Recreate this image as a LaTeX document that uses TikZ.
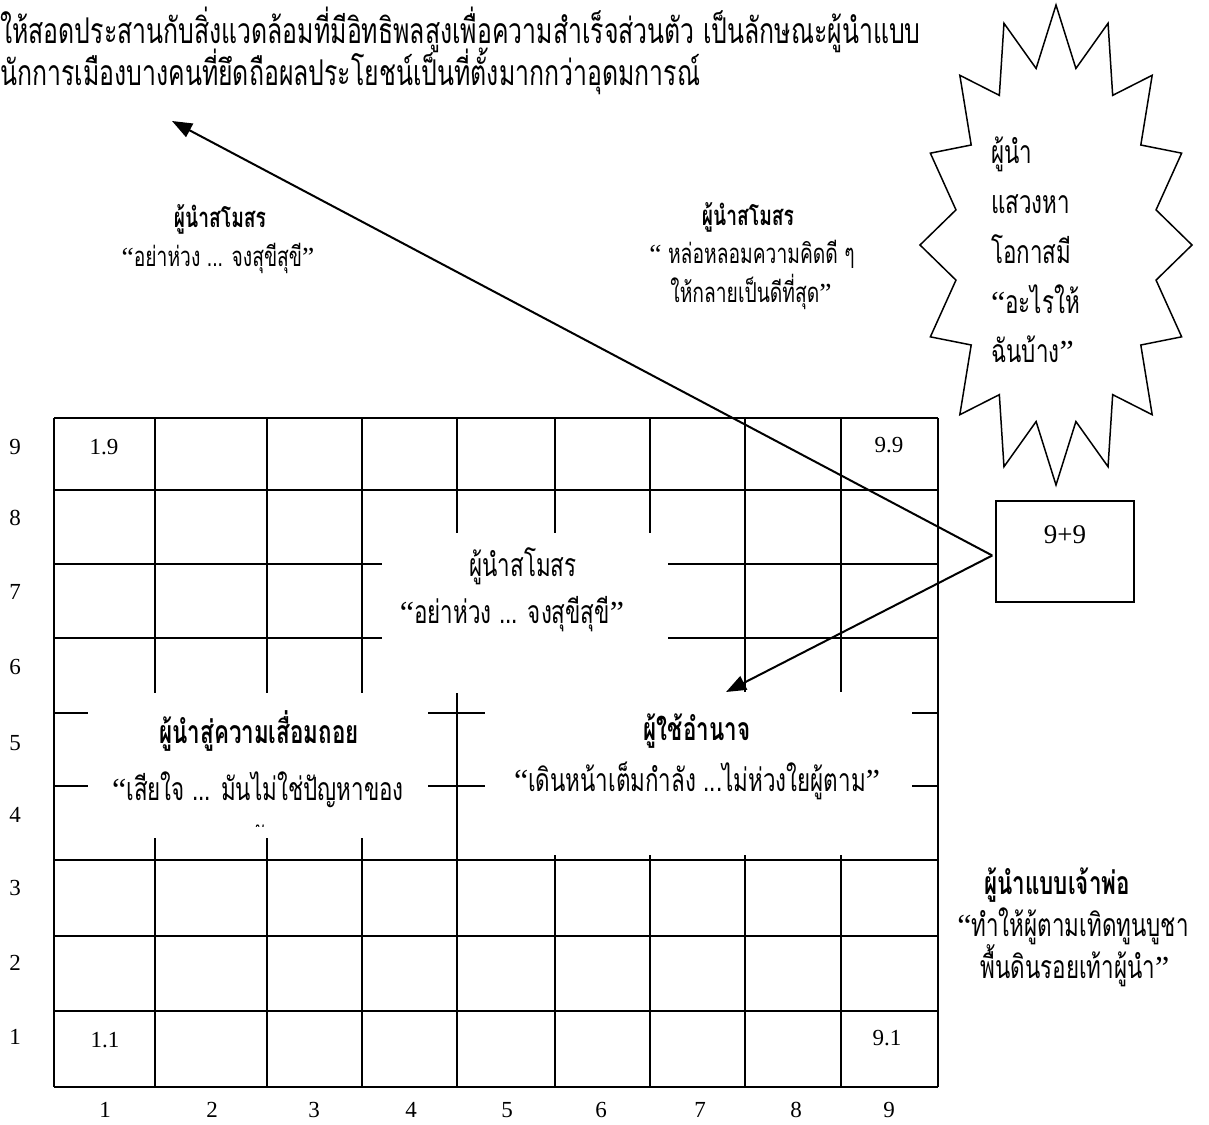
\documentclass[tikz,border=0pt]{standalone}
\usepackage{fontspec}
\setmainfont{Liberation Serif}
\newfontfamily\thai[Script=Thai,FakeStretch=0.7]{Loma}
\newcommand{\qo}{{\rmfamily “}}
\newcommand{\qc}{{\rmfamily ”}}
\usetikzlibrary{arrows.meta}
\begin{document}
\begin{tikzpicture}[x=1pt,y=-1pt,
  gridline/.style={line width=1.5pt},
  num/.style={font=\fontsize{23}{26}\selectfont, inner sep=0pt},
  th/.style={font=\thai\fontsize{32}{38}\selectfont, inner sep=0pt, anchor=base},
  thb/.style={font=\thai\bfseries\fontsize{32}{38}\selectfont, inner sep=0pt, anchor=base},
  ths/.style={font=\thai\fontsize{27.5}{33}\selectfont, inner sep=0pt, anchor=base},
  thsb/.style={font=\thai\bfseries\fontsize{27.5}{33}\selectfont, inner sep=0pt, anchor=base},
  thtop/.style={font=\thai\fontsize{35.5}{42}\selectfont, inner sep=0pt, anchor=base west},
  thstar/.style={font=\thai\fontsize{32}{38}\selectfont, inner sep=0pt, anchor=base west},
  blank/.style={fill=white, draw=none, inner sep=0pt},
  arr/.style={line width=2pt, -{Triangle[length=20pt,width=15pt]}}
]
\useasboundingbox (0,0) rectangle (1209,1124);

% top text
\node[thtop] (top1) at (0,44) {ให้สอดประสานกับสิ่งแวดล้อมที่มีอิทธิพลสูงเพื่อความสำเร็จส่วนตัว เป็นลักษณะผู้นำแบบ};
\node[thtop] (top2) at (0,85) {นักการเมืองบางคนที่ยึดถือผลประโยชน์เป็นที่ตั้งมากกว่าอุดมการณ์};

% grid
\foreach \x in {54,155,267,362,457,555,650,745,841,938}
  \draw[gridline] (\x,418) -- (\x,1087);
\foreach \y in {418,490,564,638,713,786,860,936,1011,1087}
  \draw[gridline] (54,\y) -- (938,\y);

% white text areas
\node[blank, minimum width=286pt, minimum height=160pt] (boxA) at (525,613) {};
\node[blank, minimum width=340pt, minimum height=145pt] (boxC) at (258,765.5) {};
\node[blank, minimum width=427pt, minimum height=163pt] (boxD) at (698.5,773.5) {};

% row labels
\foreach \n/\y in {9/447,8/518,7/592,6/667,5/743,4/815,3/888,2/963,1/1037}
  \node[num] (r\n) at (15,\y) {\n};
% column labels
\foreach \n/\x in {1/105,2/212,3/314,4/411,5/507,6/601,7/700,8/796,9/889}
  \node[num] (c\n) at (\x,1110) {\n};
% cell numbers
\node[num] (n19) at (104,447) {1.9};
\node[num] (n99) at (889,445) {9.9};
\node[num] (n11) at (105,1040) {1.1};
\node[num] (n91) at (887,1038) {9.1};

% texts in grid
\node[th] (cT) at (523,576) {ผู้นำสโมสร};
\node[th] (cQ) at (512,623) {\qo อย่าห่วง ... จงสุขีสุขี\qc};
\node[thb] (llT) at (259,743) {ผู้นำสู่ความเสื่อมถอย};
\node[th] (llQ) at (258,800) {\qo เสียใจ ... มันไม่ใช่ปัญหาของ};
\begin{scope}
  \clip (88,693) rectangle (428,826);
  \node[th] (llR) at (266,850) {ฉัน};
\end{scope}
\node[thb] (lrT) at (697,740) {ผู้ใช้อำนาจ};
\node[th] (lrQ) at (697,791) {\qo เดินหน้าเต็มกำลัง ...ไม่ห่วงใยผู้ตาม\qc};

% upper texts
\node[thsb] (ulT) at (220,227) {ผู้นำสโมสร};
\node[ths] (ulQ) at (218,266) {\qo อย่าห่วง ... จงสุขีสุขี\qc};
\node[thsb] (umT) at (748,225) {ผู้นำสโมสร};
\node[ths] (umQ1) at (752,263) {\qo\ หล่อหลอมความคิดดี ๆ};
\node[ths] (umQ2) at (751,302) {ให้กลายเป็นดีที่สุด\qc};

% bottom right text
\node[thb] (brT) at (1057,894) {ผู้นำแบบเจ้าพ่อ};
\node[th] (brQ1) at (1073,936) {\qo ทำให้ผู้ตามเทิดทูนบูชา};
\node[th] (brQ2) at (1075,978) {พื้นดินรอยเท้าผู้นำ\qc};

% star
\draw[line width=1.5pt, fill=white] plot[samples at={0,1,...,31}, variable=\k]
  ({1056+136*(1-0.25*mod(\k,2))*sin(\k*11.25)}, {245-240*(1-0.25*mod(\k,2))*cos(\k*11.25)}) -- cycle;
\node[thstar] (s1) at (991,163) {ผู้นำ};
\node[thstar] (s2) at (991,213) {แสวงหา};
\node[thstar] (s3) at (991,263) {โอกาสมี};
\node[thstar] (s4) at (991,313) {\qo อะไรให้};
\node[thstar] (s5) at (991,362) {ฉันบ้าง\qc};

% 9+9 box
\node[draw, line width=1.5pt, minimum width=138pt, minimum height=101pt, inner sep=0pt] (box99) at (1065,551.5) {};
\node[font=\fontsize{27}{30}\selectfont, inner sep=0pt] (t99) at (1065,535) {9+9};

% arrows
\coordinate (src) at ([xshift=-3pt,yshift=-4pt]box99.west);
\coordinate (tipA) at (172,121);
\coordinate (tipB) at (726,692);
\draw[arr] (src) -- (tipA);
\draw[arr] (src) -- (tipB);
\end{tikzpicture}
\end{document}
